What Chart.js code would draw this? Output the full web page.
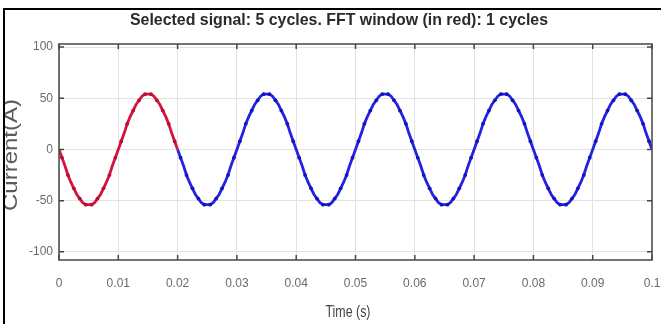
<!DOCTYPE html>
<html>
<head>
<meta charset="utf-8">
<script src="https://cdn.jsdelivr.net/npm/chart.js@4"></script>
<style>
  html, body { margin: 0; padding: 0; background: #fff; }
</style>
</head>
<body>
<canvas id="fftChart" width="661" height="324"></canvas>
<script>
// sampled current (A), one value every 0.5 ms from 0 to 0.1 s
const sampleStep = 0.0005;
const current = [
  0, -8, -16, -25, -32, -38, -44, -48, -52, -54, -54, -54, -52, -48, -44, -38, -32, -25, -16, -8,
  0, 8, 16, 25, 32, 38, 44, 48, 52, 54, 54, 54, 52, 48, 44, 38, 32, 25, 16, 8,
  0, -8, -16, -25, -32, -38, -44, -48, -52, -54, -54, -54, -52, -48, -44, -38, -32, -25, -16, -8,
  0, 8, 16, 25, 32, 38, 44, 48, 52, 54, 54, 54, 52, 48, 44, 38, 32, 25, 16, 8,
  0, -8, -16, -25, -32, -38, -44, -48, -52, -54, -54, -54, -52, -48, -44, -38, -32, -25, -16, -8,
  0, 8, 16, 25, 32, 38, 44, 48, 52, 54, 54, 54, 52, 48, 44, 38, 32, 25, 16, 8,
  0, -8, -16, -25, -32, -38, -44, -48, -52, -54, -54, -54, -52, -48, -44, -38, -32, -25, -16, -8,
  0, 8, 16, 25, 32, 38, 44, 48, 52, 54, 54, 54, 52, 48, 44, 38, 32, 25, 16, 8,
  0, -8, -16, -25, -32, -38, -44, -48, -52, -54, -54, -54, -52, -48, -44, -38, -32, -25, -16, -8,
  0, 8, 16, 25, 32, 38, 44, 48, 52, 54, 54, 54, 52, 48, 44, 38, 32, 25, 16, 8,
  0
];
const fftWindowEnd = 0.02;   // first cycle, shown in red
const xTicks = [0, 0.01, 0.02, 0.03, 0.04, 0.05, 0.06, 0.07, 0.08, 0.09, 0.1];
const yTicks = [-100, -50, 0, 50, 100];
const chartTitle = 'Selected signal: 5 cycles. FFT window (in red): 1 cycles';
const xTitle = 'Time (s)';
const yTitle = 'Current(A)';

const points = current.map((v, i) => ({ x: +(i * sampleStep).toFixed(4), y: v }));
const windowPoints = points.filter(p => p.x <= fftWindowEnd);
const restPoints = points.filter(p => p.x >= fftWindowEnd);

// draw text squeezed to a given width (the original uses a narrow font)
function fitText(ctx, text, x, y, width) {
  const w = ctx.measureText(text).width;
  ctx.save();
  ctx.translate(x, y);
  ctx.scale(width / w, 1);
  ctx.fillText(text, 0, 0);
  ctx.restore();
}

const framePlugin = {
  id: 'matlabFrame',
  afterDraw(chart) {
    const { ctx, chartArea: a, scales } = chart;
    ctx.save();
    // plot box with inward ticks
    ctx.strokeStyle = '#474747';
    ctx.lineWidth = 1.5;
    ctx.strokeRect(a.left, a.top, a.width, a.height);
    ctx.beginPath();
    xTicks.forEach(v => {
      const px = scales.x.getPixelForValue(v);
      ctx.moveTo(px, a.top); ctx.lineTo(px, a.top + 5);
      ctx.moveTo(px, a.bottom); ctx.lineTo(px, a.bottom - 5);
    });
    yTicks.forEach(v => {
      const py = scales.y.getPixelForValue(v);
      ctx.moveTo(a.left, py); ctx.lineTo(a.left + 5, py);
      ctx.moveTo(a.right, py); ctx.lineTo(a.right - 5, py);
    });
    ctx.stroke();

    // texts
    ctx.textAlign = 'center';
    ctx.textBaseline = 'middle';
    ctx.fillStyle = '#2a2a2a';
    ctx.font = 'bold 17px "Liberation Sans", sans-serif';
    fitText(ctx, chartTitle, 339, 20, 418);
    ctx.fillStyle = '#454545';
    ctx.font = '17px "Liberation Sans", sans-serif';
    fitText(ctx, xTitle, 348, 312, 45);

    ctx.save();
    ctx.beginPath();
    ctx.rect(5, 40, 40, 230);
    ctx.clip();
    ctx.translate(17, 155);
    ctx.rotate(-Math.PI / 2);
    ctx.textBaseline = 'alphabetic';
    ctx.font = '21px "Liberation Sans", sans-serif';
    ctx.fillStyle = '#5a5a5a';
    fitText(ctx, yTitle, 0, 0, 112);
    ctx.restore();

    // outer black frame (left and top)
    ctx.strokeStyle = '#000';
    ctx.lineWidth = 2;
    ctx.beginPath();
    ctx.moveTo(4, 324); ctx.lineTo(4, 9); ctx.lineTo(661, 9);
    ctx.stroke();
    ctx.restore();
  }
};

const dotRadius = ctx => (ctx.dataIndex % 2 === 1 ? 1.9 : 0);

new Chart(document.getElementById('fftChart'), {
  type: 'line',
  data: {
    datasets: [
      {
        data: windowPoints,
        borderColor: '#d3143c',
        backgroundColor: '#b80f33',
        borderWidth: 2.8,
        pointRadius: dotRadius,
        pointBorderWidth: 0,
        tension: 0
      },
      {
        data: restPoints,
        borderColor: '#2222e2',
        backgroundColor: '#1414b8',
        borderWidth: 2.8,
        pointRadius: dotRadius,
        pointBorderWidth: 0,
        tension: 0
      }
    ]
  },
  options: {
    responsive: false,
    animation: false,
    layout: { padding: { top: 44, right: 9, left: 0, bottom: 0 } },
    plugins: {
      legend: { display: false },
      tooltip: { enabled: false }
    },
    scales: {
      x: {
        type: 'linear',
        min: 0,
        max: 0.1,
        afterBuildTicks: s => { s.ticks = xTicks.map(v => ({ value: v })); },
        afterFit: s => { s.height = 64; s.paddingLeft = 0; s.paddingRight = 0; },
        grid: { color: '#e2e2e2', drawTicks: false },
        border: { display: false },
        ticks: {
          padding: 16,
          maxRotation: 0,
          autoSkip: false,
          color: '#6a6a6a',
          font: { family: '"Liberation Sans", sans-serif', size: 12 },
          callback: v => String(+v.toFixed(2))
        }
      },
      y: {
        min: -108,
        max: 103,
        afterBuildTicks: s => { s.ticks = yTicks.map(v => ({ value: v })); },
        afterFit: s => { s.width = 59; s.paddingTop = 0; s.paddingBottom = 0; },
        grid: { color: '#e2e2e2', drawTicks: false },
        border: { display: false },
        ticks: {
          padding: 6,
          color: '#6a6a6a',
          font: { family: '"Liberation Sans", sans-serif', size: 12 }
        }
      }
    }
  },
  plugins: [framePlugin]
});
</script>
</body>
</html>
